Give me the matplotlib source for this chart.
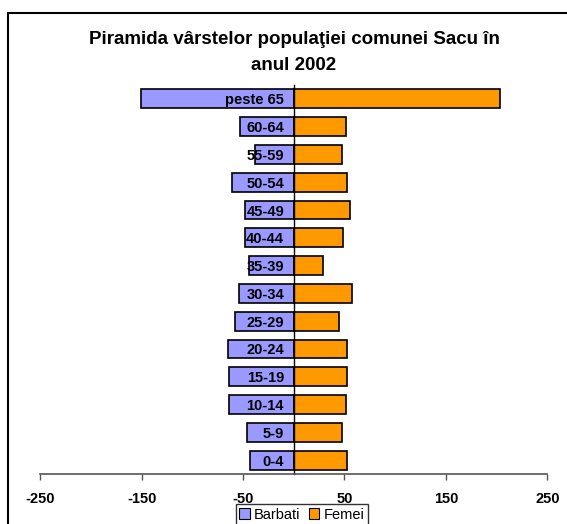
import matplotlib
matplotlib.use("Agg")
import matplotlib.pyplot as plt
from matplotlib.patches import Rectangle, Patch

categories = ["0-4", "5-9", "10-14", "15-19", "20-24", "25-29", "30-34",
              "35-39", "40-44", "45-49", "50-54", "55-59", "60-64", "peste 65"]
barbati = [43, 46, 64, 64, 65, 58, 54, 44, 48, 48, 61, 38, 53, 151]
femei = [52, 48, 51, 52, 52, 45, 57, 29, 49, 55, 52, 48, 51, 203]
xticks = [-250, -150, -50, 50, 150, 250]
title = "Piramida vârstelor populaţiei comunei Sacu în\nanul 2002"

plt.rcParams['font.family'] = ['Liberation Sans', 'DejaVu Sans']

W, H = 567, 524
fig = plt.figure(figsize=(W / 100, H / 100), dpi=100)
fig.patch.set_facecolor('white')

# outer frame (cropped at right/bottom)
fig.patches.append(Rectangle((8 / W, -0.1), 1.2, 1 - 13 / H + 0.1,
                             transform=fig.transFigure, fill=False,
                             edgecolor='black', linewidth=1.5, zorder=0))

ax = fig.add_axes([40.3 / W, 1 - 474 / H, (547.3 - 40.3) / W, (474 - 85) / H])
y = list(range(len(categories)))
neg = [-v for v in barbati]
ax.barh(y, neg, height=0.68, color='#9999FF', edgecolor='black', linewidth=1.2, label='Barbati')
ax.barh(y, femei, height=0.68, color='#FF9900', edgecolor='black', linewidth=1.2, label='Femei')

ax.set_xlim(-250, 250)
ax.set_ylim(-0.5, len(categories) - 0.5)
ax.set_xticks(xticks)
ax.set_xticklabels([str(t) for t in xticks], fontsize=10.5, fontweight='bold')
ax.tick_params(axis='x', direction='out', length=4, width=1, color='#555555', pad=9)

ax.spines['top'].set_visible(False)
ax.spines['right'].set_visible(False)
ax.spines['bottom'].set_color('#555555')
ax.spines['bottom'].set_linewidth(1.2)
ax.spines['left'].set_position(('data', 0))
ax.spines['left'].set_color('black')
ax.spines['left'].set_linewidth(1.0)
ax.set_yticks(y)
ax.set_yticklabels(categories, fontsize=10.5, fontweight='bold')
ax.tick_params(axis='y', length=0, pad=7)
ax.set_facecolor('white')

fig.text(294 / W, 1 - 52.5 / H, title, ha='center', va='center', fontsize=13.5,
         fontweight='bold', linespacing=1.75)

handles = [Patch(facecolor='#9999FF', edgecolor='black', linewidth=0.8, label='Barbati'),
           Patch(facecolor='#FF9900', edgecolor='black', linewidth=0.8, label='Femei')]
leg = fig.legend(handles=handles, loc='upper center', bbox_to_anchor=(302 / W, 1 - 504 / H),
                 ncol=2, fontsize=10.5, frameon=True, fancybox=False, edgecolor='black',
                 handlelength=0.7, handleheight=0.7, handletextpad=0.3, columnspacing=0.6,
                 borderpad=0.25, borderaxespad=0)
leg.get_frame().set_linewidth(1.0)

fig.savefig('out.png', dpi=100, facecolor='white')
